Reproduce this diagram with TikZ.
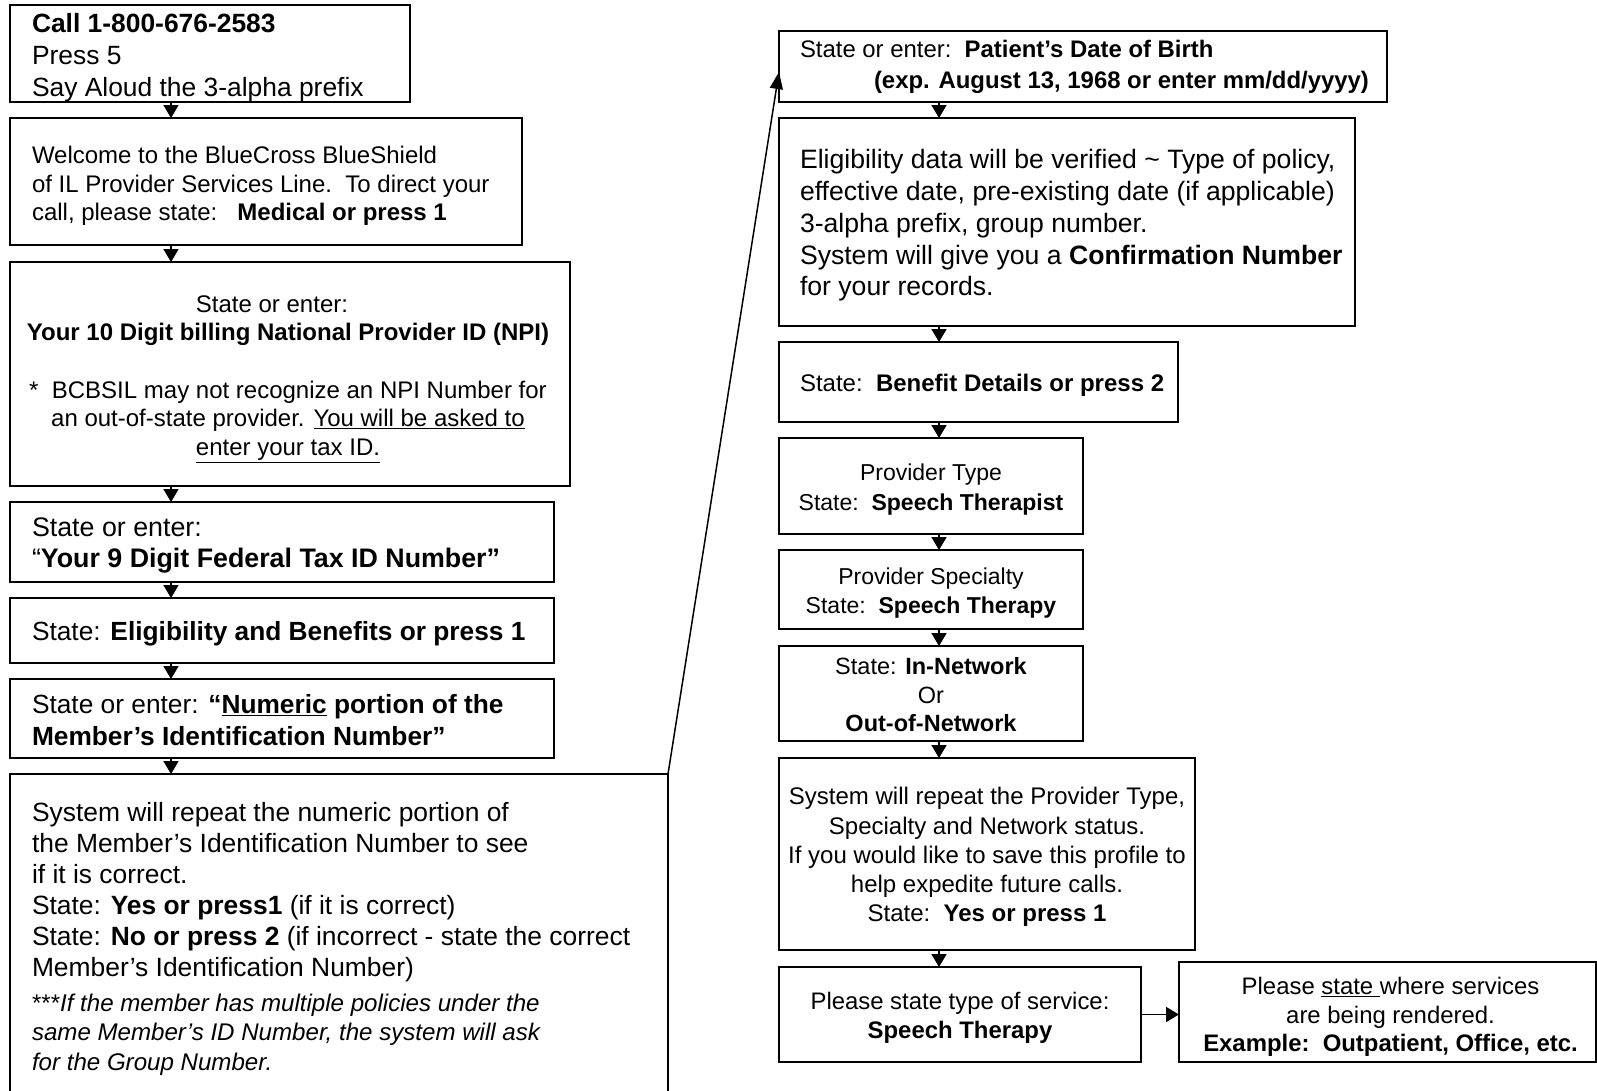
\documentclass[tikz,border=0pt]{standalone}
\usepackage{fontspec}
\setmainfont{Liberation Sans}
\usetikzlibrary{arrows.meta,calc}
\newcommand{\fsz}[2]{\fontsize{#1pt}{#2pt}\selectfont}
\begin{document}
\begin{tikzpicture}[x=1pt,y=-1pt,
  box/.style={draw, line width=1.7pt, anchor=north west, inner sep=0pt, outer sep=0pt},
  txt/.style={inner sep=0pt, outer sep=0pt},
  arr/.style={line width=1.7pt, -{Triangle[width=15pt,length=13pt]}},
  longarr/.style={line width=1.5pt, -{Triangle[width=13pt,length=17pt]}},
]
\useasboundingbox[fill=white] (0,0) rectangle (1597,1090);
\coordinate (lx) at (171,0);
\coordinate (rx) at (939,0);

% ---------------- left column ----------------
\node[box, minimum width=400pt, minimum height=97pt] (b1) at (10,5) {};
\node[txt, anchor=west, align=left, font=\fsz{26.4}{32.3}] (t1) at ($(b1.west)+(22,4)$)
  {\textbf{Call 1-800-676-2583}\\ Press 5\\ Say Aloud the 3-alpha prefix};

\node[box, minimum width=512pt, minimum height=127pt] (b2) at (10,118) {};
\node[txt, anchor=west, align=left, font=\fsz{24}{28.5}] (t2) at ($(b2.west)+(22,4.5)$)
  {Welcome to the BlueCross BlueShield\\ of IL Provider Services Line.\ \ To direct your\\ call, please state:\ \ \ \textbf{Medical or press 1}};

\node[box, minimum width=560pt, minimum height=224pt] (b3) at (10,262) {};
\node[txt, anchor=center, align=center, font=\fsz{24}{28.6}] (t3) at ($(b3.center)+(-2,5)$)
  {State or enter:\hspace*{32pt}\\ \textbf{Your 10 Digit billing National Provider ID (NPI)}\\[28.6pt]
   *\ \ BCBSIL may not recognize an NPI Number for\\
   an out-of-state provider. \underline{You will be asked to}\\
   \underline{enter your tax ID.}};

\node[box, minimum width=544pt, minimum height=80pt] (b4) at (10,502) {};
\node[txt, anchor=west, align=left, font=\fsz{26.8}{31}] (t4) at ($(b4.west)+(22,3.5)$)
  {State or enter:\\ “\textbf{Your 9 Digit Federal Tax ID Number”}};

\node[box, minimum width=544pt, minimum height=65pt] (b5) at (10,598) {};
\node[txt, anchor=west, align=left, font=\fsz{26.3}{30.7}] (t5) at ($(b5.west)+(22,3)$)
  {State: \textbf{Eligibility and Benefits or press 1}};

\node[box, minimum width=544pt, minimum height=79pt] (b6) at (10,679) {};
\node[txt, anchor=west, align=left, font=\fsz{26.3}{31.7}] (t6) at ($(b6.west)+(22,1.5)$)
  {State or enter: \textbf{“\underline{Numeric} portion of the}\\ \textbf{Member’s Identification Number”}};

\node[box, draw=none, minimum width=658pt, minimum height=320pt] (b7) at (10,774) {};
\draw[line width=1.7pt] (b7.south west) -- (b7.north west) -- (b7.north east) -- (b7.south east);
\node[txt, anchor=north west, align=left, font=\fsz{26.4}{31}] (t7a) at ($(b7.north west)+(22,28)$)
  {System will repeat the numeric portion of\\
   the Member’s Identification Number to see\\
   if it is correct.\\
   State: \textbf{Yes or press1} (if it is correct)\\
   State: \textbf{No or press 2} (if incorrect - state the correct\\
   Member’s Identification Number)};
\node[txt, anchor=north west, align=left, font=\fsz{24.1}{29.5}\itshape] (t7b) at ($(t7a.south west)+(0,12)$)
  {{\upshape ***}If the member has multiple policies under the\\
   same Member’s ID Number, the system will ask\\
   for the Group Number.};

\draw[arr] (b1.south -| lx) -- (b2.north -| lx);
\draw[arr] (b2.south -| lx) -- (b3.north -| lx);
\draw[arr] (b3.south -| lx) -- (b4.north -| lx);
\draw[arr] (b4.south -| lx) -- (b5.north -| lx);
\draw[arr] (b5.south -| lx) -- (b6.north -| lx);
\draw[arr] (b6.south -| lx) -- (b7.north -| lx);

% ---------------- right column ----------------
\node[box, minimum width=608pt, minimum height=71pt] (r1) at (779,31) {};
\node[txt, anchor=west, align=left, font=\fsz{23.9}{30.5}] (tr1) at ($(r1.west)+(21,0.5)$)
  {State or enter:\ \ \textbf{Patient’s Date of Birth}\\
   \hspace*{74pt}\textbf{(exp. August 13, 1968 or enter mm/dd/yyyy)}};

\node[box, minimum width=576pt, minimum height=208pt] (r2) at (779,118) {};
\node[txt, anchor=west, align=left, font=\fsz{26.6}{31.8}] (tr2) at ($(r2.west)+(21,3.5)$)
  {Eligibility data will be verified \textasciitilde\ Type of policy,\\
   effective date, pre-existing date (if applicable)\\
   3-alpha prefix, group number.\\
   System will give you a \textbf{Confirmation Number}\\
   for your records.};

\node[box, minimum width=399pt, minimum height=80pt] (r3) at (779,342) {};
\node[txt, anchor=west, align=left, font=\fsz{24}{29}] (tr3) at ($(r3.west)+(21,3)$)
  {State:\ \ \textbf{Benefit Details or press 2}};

\node[box, minimum width=304pt, minimum height=96pt] (r4) at (779,438) {};
\node[txt, anchor=center, align=center, font=\fsz{23}{29.8}] (tr4) at ($(r4.center)+(0,3.5)$)
  {Provider Type\\ State:\ \ \textbf{Speech Therapist}};

\node[box, minimum width=304pt, minimum height=79pt] (r5) at (779,550) {};
\node[txt, anchor=center, align=center, font=\fsz{23}{29.8}] (tr5) at ($(r5.center)+(0,3.5)$)
  {Provider Specialty\\ State:\ \ \textbf{Speech Therapy}};

\node[box, minimum width=304pt, minimum height=95pt] (r6) at (779,646) {};
\node[txt, anchor=center, align=center, font=\fsz{23.5}{28.5}] (tr6) at ($(r6.center)+(0,1.5)$)
  {State: \textbf{In-Network}\\ Or\\ \textbf{Out-of-Network}};

\node[box, minimum width=416pt, minimum height=192pt] (r7) at (779,758) {};
\node[txt, anchor=center, align=center, font=\fsz{24}{29.2}] (tr7) at ($(r7.center)+(0,3)$)
  {System will repeat the Provider Type,\\
   Specialty and Network status.\\
   If you would like to save this profile to\\
   help expedite future calls.\\
   State:\ \ \textbf{Yes or press 1}};

\node[box, minimum width=362pt, minimum height=95pt] (r8) at (779,967) {};
\node[txt, anchor=center, align=center, font=\fsz{23.9}{29}] (tr8) at ($(r8.center)+(0,3)$)
  {Please state type of service:\\ \textbf{Speech Therapy}};

\node[box, minimum width=417pt, minimum height=100pt] (r9) at (1179,962) {};
\node[txt, anchor=center, align=center, font=\fsz{23.9}{28.5}] (tr9) at ($(r9.center)+(3,5)$)
  {Please \underline{state }where services\\ are being rendered.\\ \textbf{Example:\ \ Outpatient, Office, etc.}};

\draw[arr] (r1.south -| rx) -- (r2.north -| rx);
\draw[arr] (r2.south -| rx) -- (r3.north -| rx);
\draw[arr] (r3.south -| rx) -- (r4.north -| rx);
\draw[arr] (r4.south -| rx) -- (r5.north -| rx);
\draw[arr] (r5.south -| rx) -- (r6.north -| rx);
\draw[arr] (r6.south -| rx) -- (r7.north -| rx);
\draw[arr] (r7.south -| rx) -- (r8.north -| rx);
\draw[arr] (r8.east) -- (r8.east -| r9.west);

\draw[longarr] (b7.north east) -- ($(r1.south west)+(0,-30)$);
\end{tikzpicture}
\end{document}
